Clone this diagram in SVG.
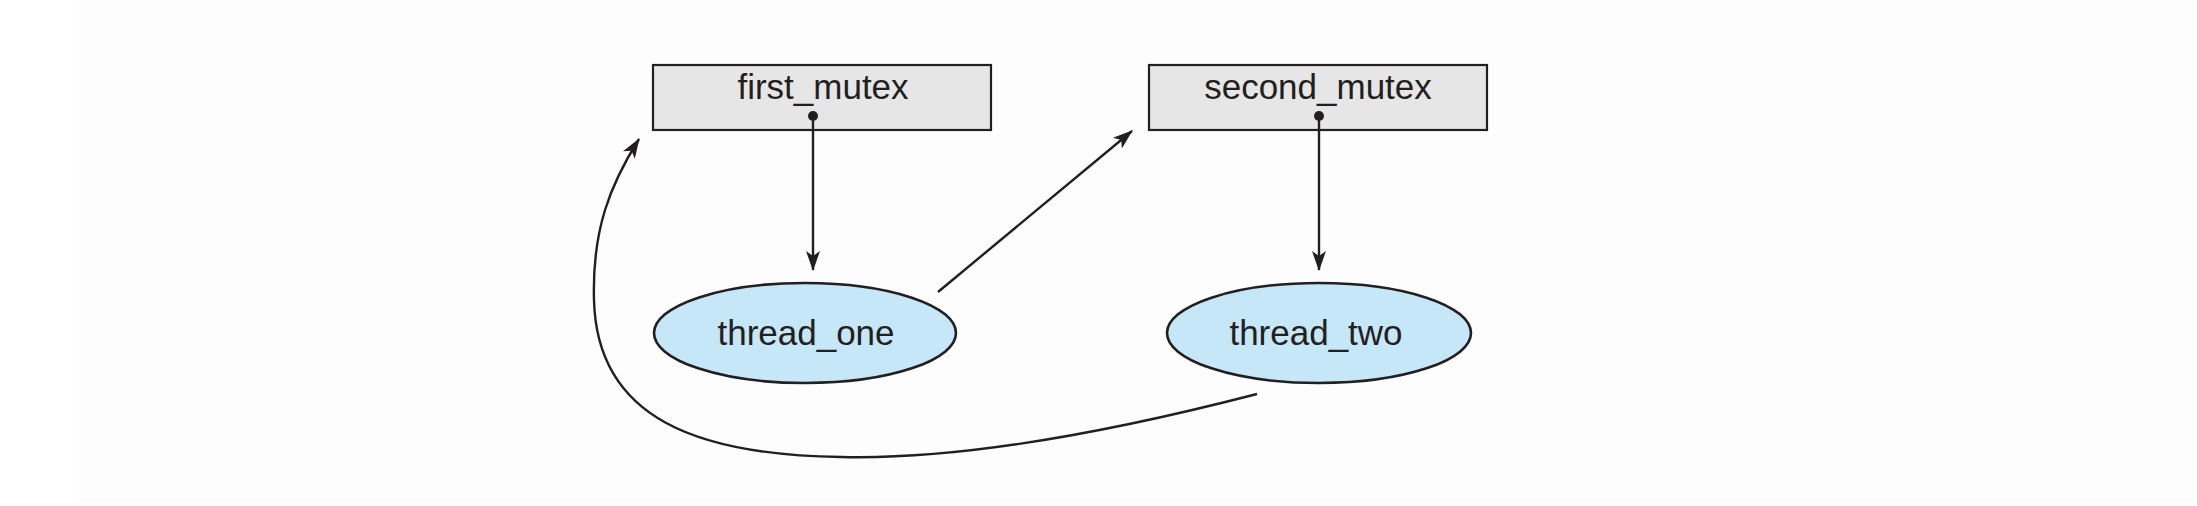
<svg xmlns="http://www.w3.org/2000/svg" width="2197" height="506" viewBox="0 0 2197 506">
<style>
.box{fill:#e6e6e6;stroke:#231f20;stroke-width:2.2}
.thr{fill:#c6e7f8;stroke:#231f20;stroke-width:2.6}
.lbl{font-family:"Liberation Sans",Arial,sans-serif;font-size:35px;fill:#231f20;text-anchor:middle}
.edge{fill:none;stroke:#231f20;stroke-width:2.4}
</style>
<defs>
<marker id="ah" viewBox="0 0 20 14" refX="19" refY="7" markerWidth="20" markerHeight="14" markerUnits="userSpaceOnUse" orient="auto">
<path d="M0,0 L20,7 L0,14 L5,7 Z" fill="#231f20"/>
</marker>
</defs>
<rect x="0" y="0" width="2197" height="506" fill="#ffffff"/>
<rect x="75" y="0" width="2122" height="502" fill="#fdfdfd"/>
<g id="first_mutex">
<rect class="box" x="653" y="65" width="338" height="65"/>
<text class="lbl" x="823" y="99">first_mutex</text>
<circle cx="813" cy="116" r="5" fill="#231f20"/>
</g>
<g id="second_mutex">
<rect class="box" x="1149" y="65" width="338" height="65"/>
<text class="lbl" x="1318" y="99">second_mutex</text>
<circle cx="1319" cy="116" r="5" fill="#231f20"/>
</g>
<g id="thread_one">
<ellipse class="thr" cx="805" cy="333" rx="151" ry="50"/>
<text class="lbl" x="806" y="345">thread_one</text>
</g>
<g id="thread_two">
<ellipse class="thr" cx="1319" cy="333" rx="152" ry="50"/>
<text class="lbl" x="1316" y="345">thread_two</text>
</g>
<g id="connectors">
<line class="edge" x1="813" y1="116" x2="813" y2="270" marker-end="url(#ah)"/>
<line class="edge" x1="1319" y1="116" x2="1319" y2="270" marker-end="url(#ah)"/>
<line class="edge" x1="938" y1="292" x2="1132" y2="131" marker-end="url(#ah)"/>
<path class="edge" d="M1257,394 C1110,432 960,460 841,457 C700,455 597,420 594,300 C592,230 610,185 639,139" marker-end="url(#ah)"/>
</g>
</svg>
